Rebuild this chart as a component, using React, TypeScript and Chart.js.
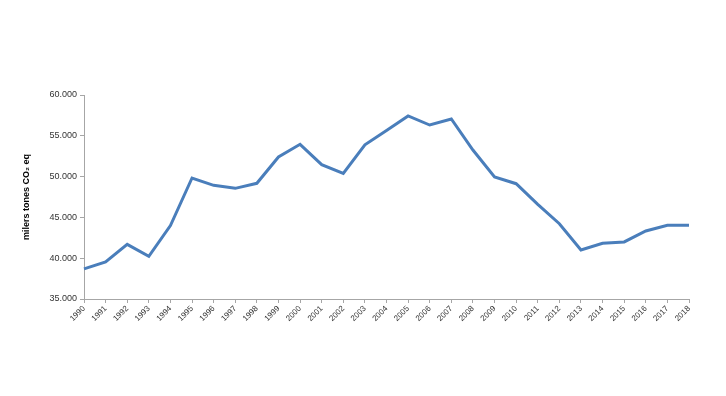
import React, { useEffect, useRef } from "react";
import { Chart, registerables } from "chart.js";

Chart.register(...registerables);

const years = [
  "1990", "1991", "1992", "1993", "1994", "1995", "1996", "1997", "1998", "1999",
  "2000", "2001", "2002", "2003", "2004", "2005", "2006", "2007", "2008", "2009",
  "2010", "2011", "2012", "2013", "2014", "2015", "2016", "2017", "2018",
];

const emissions = [
  38700, 39550, 41700, 40230, 44000, 49830, 48930, 48560, 49180, 52400,
  53960, 51460, 50400, 53900, 55650, 57430, 56320, 57060, 53260, 49950,
  49130, 46600, 44230, 41000, 41820, 41990, 43330, 44030, 44030,
];

const yTitle = "milers tones CO\u2082 eq";
const yMin = 35000;
const yMax = 60000;
const yStep = 5000;

function fmt(v: number): string {
  const s = Math.round(v).toString();
  return s.replace(/\B(?=(\d{3})+(?!\d))/g, ".");
}

export default function App() {
  const ref = useRef<HTMLCanvasElement | null>(null);
  useEffect(() => {
    if (!ref.current) return;
    const chart = new Chart(ref.current, {
      type: "line",
      data: {
        labels: years,
        datasets: [
          {
            data: emissions,
            borderColor: "#4a7ebb",
            borderWidth: 3,
            pointRadius: 0,
            tension: 0,
            fill: false,
          },
        ],
      },
      options: {
        animation: false,
        responsive: false,
        maintainAspectRatio: false,
        layout: { padding: { top: 95, right: 37, left: 0, bottom: 0 } },
        plugins: { legend: { display: false }, tooltip: { enabled: false } },
        scales: {
          x: {
            offset: false,
            grid: {
              drawOnChartArea: false,
              drawTicks: true,
              tickLength: 4,
              color: "#a6a6a6",
            },
            border: { color: "#a6a6a6", width: 1 },
            ticks: {
              autoSkip: false,
              maxRotation: 45,
              minRotation: 45,
              padding: 1,
              color: "#333",
              font: { family: "Liberation Sans", size: 8 },
            },
            afterFit: (s: any) => {
              s.height = 97;
            },
          },
          y: {
            min: yMin,
            max: yMax,
            grid: {
              drawOnChartArea: false,
              drawTicks: true,
              tickLength: 4,
              color: "#a6a6a6",
            },
            border: { color: "#a6a6a6", width: 1 },
            ticks: {
              stepSize: yStep,
              padding: 3,
              color: "#333",
              font: { family: "Liberation Sans", size: 9 },
              callback: (v: any) => fmt(Number(v)),
            },
            title: {
              display: true,
              text: yTitle,
              color: "#000",
              font: { family: "Liberation Sans", size: 9, weight: "bold" },
              padding: { top: 21, bottom: 0 },
            },
            afterFit: (s: any) => {
              s.width = 84;
            },
          },
        },
      },
    });
    return () => chart.destroy();
  }, []);
  return (
    <div style={{ position: "fixed", left: 0, top: 0, width: 726, height: 396, background: "#fff" }}>
      <canvas ref={ref} width={726} height={396} style={{ width: 726, height: 396 }} />
    </div>
  );
}
